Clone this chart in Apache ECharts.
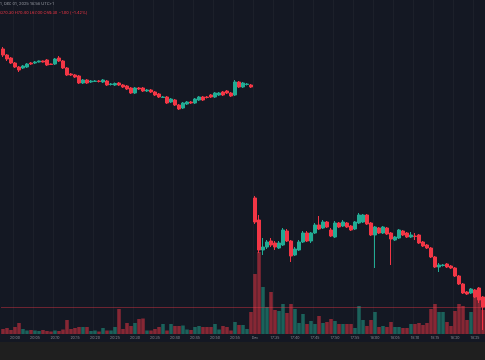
<!DOCTYPE html>
<html><head><meta charset="utf-8">
<script src="https://cdn.jsdelivr.net/npm/echarts@6/dist/echarts.min.js"></script>
<style>html,body{margin:0;padding:0;background:#141823;}#c{width:485px;height:360px;}</style>
</head><body><div id="c"></div>
<script>
// two trading sessions shown side by side (one candle per minute)
const sessionA = {start: '19:57', count: 63};
const sessionB = {start: '17:30', count: 58};
const sessionLabel = 'Dec';

const opens = [
95.1,94.5,94.2,93.7,93.3,93.2,93.3,93.7,93.7,93.8,
93.9,94.0,93.6,93.6,94.2,93.9,93.2,92.6,92.5,92.4,
91.7,92.0,91.8,91.85,91.9,91.8,91.9,91.55,91.5,91.7,
91.5,91.4,91.2,90.7,91.2,91.2,90.9,91.0,90.8,90.6,
90.25,90.3,89.8,90.0,89.5,89.2,89.6,89.8,89.7,90.0,
90.3,90.3,90.5,90.3,90.5,90.8,90.9,90.7,90.5,91.8,
91.3,91.55,91.5,
80.2,78.0,75.0,75.3,75.9,75.7,75.2,
75.5,76.9,75.9,74.5,75.0,75.8,76.7,75.9,76.7,77.5,
77.2,77.8,77.0,76.3,77.7,77.4,77.7,77.4,77.1,77.7,
77.8,78.5,77.7,76.5,77.2,76.7,77.2,76.7,76.0,76.2,
76.9,76.7,76.3,76.4,76.5,75.8,75.5,75.2,74.3,73.3,
73.45,73.6,73.4,73.2,72.4,71.6,70.8,70.7,71.0,71.2,70.3
];
const closes = [
94.5,94.1,93.7,93.3,93.0,93.4,93.6,93.6,93.8,93.9,
93.8,93.5,93.55,94.1,93.9,93.2,92.5,92.5,92.3,91.7,
92.0,91.7,91.9,91.9,91.85,92.0,91.5,91.6,91.65,91.5,
91.3,91.1,90.7,91.2,91.1,90.9,91.0,90.8,90.5,90.3,
90.3,89.7,90.1,89.5,89.1,89.7,89.8,89.7,90.1,90.3,
90.0,90.25,90.3,90.7,90.7,90.5,90.7,90.4,91.8,91.3,
91.7,91.6,91.3,
77.8,75.0,75.3,75.8,75.5,75.3,75.7,
77.0,75.9,74.4,75.1,75.8,76.7,75.9,76.7,77.5,77.1,
77.8,77.3,76.4,77.7,77.3,77.8,77.3,77.0,77.8,78.5,
78.5,77.6,76.5,77.3,76.7,77.3,76.6,76.1,76.3,77.0,
76.5,76.3,76.5,76.35,75.7,75.4,75.2,74.3,73.3,73.5,
73.5,73.3,73.2,72.4,71.6,70.7,70.6,71.1,70.3,70.0,69.3
];
const highs = [
95.3,94.6,94.3,93.8,93.4,93.5,93.7,93.8,93.9,93.95,
93.95,94.1,93.65,94.2,94.4,94.0,93.3,92.7,92.6,92.5,
92.1,92.1,92.0,92.0,92.0,92.1,92.0,91.7,91.75,91.8,
91.6,91.5,91.3,91.3,91.3,91.3,91.1,91.1,90.9,90.7,
90.4,90.4,90.2,90.1,89.6,89.8,89.9,89.9,90.2,90.4,
90.4,90.4,90.6,90.8,90.8,90.9,91.0,90.8,92.0,91.9,
91.8,91.7,91.6,
80.4,78.5,76.2,76.0,76.2,75.9,75.9,
77.2,77.1,76.0,75.3,76.0,76.9,76.9,76.8,77.7,78.4,
78.0,77.9,77.2,77.9,77.8,78.0,77.8,77.5,77.9,78.7,
78.6,78.6,77.8,77.4,77.3,77.4,77.3,76.8,76.4,77.1,
77.0,76.8,76.8,76.7,76.6,75.9,75.6,75.3,74.4,73.7,
73.6,73.7,73.5,73.3,72.5,71.7,70.9,71.2,71.1,71.3,70.4
];
const lows = [
94.3,93.9,93.6,93.2,92.8,93.1,93.2,93.5,93.6,93.75,
93.75,93.4,93.5,93.5,93.8,93.1,92.4,92.4,92.2,91.6,
91.6,91.6,91.7,91.8,91.75,91.7,91.4,91.45,91.4,91.4,
91.2,91.0,90.6,90.6,91.0,90.8,90.8,90.7,90.4,90.2,
90.2,89.6,89.7,89.4,89.0,89.1,89.5,89.6,89.6,89.9,
89.9,90.15,90.2,90.2,90.4,90.4,90.6,90.3,90.4,91.2,
91.2,91.45,91.2,
77.6,74.7,74.5,75.1,75.3,75.0,75.1,
75.4,75.8,73.8,74.4,74.9,75.7,75.8,75.7,76.6,77.0,
77.1,77.2,76.3,76.2,77.2,77.3,77.2,76.9,77.0,77.6,
77.7,77.5,76.4,73.2,76.6,76.6,76.5,73.5,75.9,76.1,
76.4,76.2,76.2,76.0,75.6,75.3,75.1,74.2,73.2,72.8,
73.35,73.2,73.1,72.3,71.5,70.6,70.5,70.6,70.2,69.7,67.0
];
const volumes = [
50,60,40,70,110,50,35,40,35,30,
40,30,25,35,30,45,140,50,60,70,
70,70,30,35,25,60,35,35,70,250,
50,110,80,110,150,155,35,35,50,70,
100,35,100,80,80,85,45,40,70,80,
70,70,70,100,45,80,70,35,120,90,
90,50,220,
600,820,470,270,420,240,230,
300,210,300,250,110,200,100,130,100,180,
110,120,150,130,100,100,100,100,60,280,
140,80,140,220,70,80,70,120,70,70,
60,60,100,100,110,90,110,250,300,220,
220,120,80,230,300,280,140,220,400,450,240
];
const headerLine1 = '1, Dec 01, 2025 18:58 UTC+1';
const headerLine2 = 'O70.30 H70.40 L67.00 C69.30 \u22121.00 (\u22121.42%)';
const lastPrice = closes[closes.length - 1];

function makeTimes(s) {
  const [h, m] = s.start.split(':').map(Number);
  const out = [];
  for (let k = 0; k < s.count; k++) {
    const t = h * 60 + m + k;
    out.push(String(Math.floor(t / 60) % 24).padStart(2, '0') + ':' + String(t % 60).padStart(2, '0'));
  }
  return out;
}
const times = makeTimes(sessionA).concat(makeTimes(sessionB));
const sessionBreak = sessionA.count;
const labelShown = (idx, val) => idx === sessionBreak || Number(String(val).slice(3)) % 5 === 0;

const UP = '#22ab94', DOWN = '#f23645';
const chart = echarts.init(document.getElementById('c'), null, {renderer: 'canvas'});
chart.setOption({
  animation: false,
  backgroundColor: '#141823',
  grid: [
    {left: 1, right: 0, top: 0, height: 334},
    {left: 1, right: 0, top: 234, height: 100}
  ],
  xAxis: [
    {type: 'category', gridIndex: 0, data: times, boundaryGap: true,
     axisLine: {show: false}, axisTick: {show: false}, axisLabel: {show: false},
     splitLine: {show: true, interval: labelShown, lineStyle: {color: 'rgba(255,255,255,0.035)', width: 1}}},
    {type: 'category', gridIndex: 1, data: times, boundaryGap: true,
     axisLine: {show: false}, axisTick: {show: false},
     axisLabel: {show: true, interval: labelShown, margin: 2, fontSize: 3.6, color: '#8a8d96',
       fontFamily: 'Inter, sans-serif',
       formatter: (v, i) => i === sessionBreak ? sessionLabel : v},
     splitLine: {show: false}}
  ],
  yAxis: [
    {type: 'value', gridIndex: 0, min: 66.6, max: 100, show: false, splitLine: {show: false}},
    {type: 'value', gridIndex: 1, min: 0, max: 1000, show: false, splitLine: {show: false}}
  ],
  series: [
    {type: 'bar', xAxisIndex: 1, yAxisIndex: 1, z: 1, barWidth: '88%',
     data: volumes.map((v, i) => ({value: v, itemStyle: {color: closes[i] >= opens[i] ? 'rgba(34,171,148,0.5)' : 'rgba(242,54,69,0.52)'}}))},
    {type: 'candlestick', xAxisIndex: 0, yAxisIndex: 0, z: 3, barWidth: 3,
     data: opens.map((o, i) => [o, closes[i], lows[i], highs[i]]),
     itemStyle: {color: UP, color0: DOWN, borderColor: UP, borderColor0: DOWN, borderWidth: 1},
     markLine: {silent: true, symbol: 'none', label: {show: false},
       lineStyle: {color: 'rgba(242,54,69,0.4)', type: 'solid', width: 1},
       data: [{yAxis: lastPrice}]}}
  ],
  graphic: [
    {type: 'rect', shape: {x: 0, y: 342, width: 485, height: 18}, style: {fill: '#1f1f1f'}, z: 10},
    {type: 'text', left: 0, top: 1.5, z: 10, style: {text: headerLine1, fill: '#9598a1', font: '4px Inter, sans-serif'}},
    {type: 'text', left: 0, top: 11, z: 10, style: {text: headerLine2, fill: '#f23645', font: '4px Inter, sans-serif'}}
  ]
});
</script></body></html>
